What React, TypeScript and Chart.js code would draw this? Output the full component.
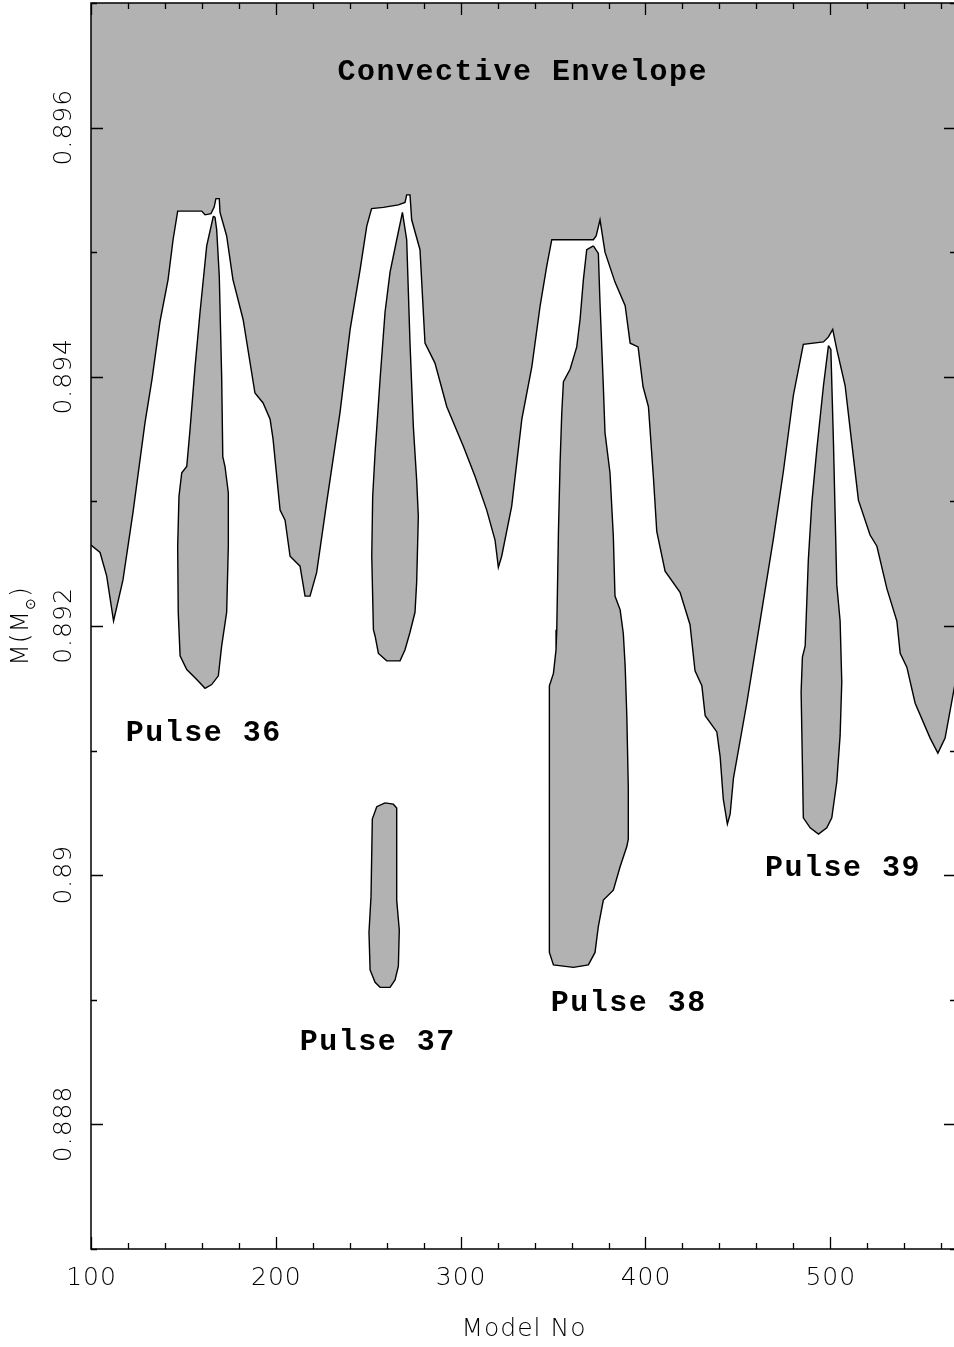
import React, { useEffect, useRef } from "react";
import { Chart, registerables } from "chart.js";

Chart.register(...registerables);

// ---- axis ranges and tick labels ----
const X_MIN = 100;
const X_MAX = 568;
const Y_MIN = 0.887;
const Y_MAX = 0.897;
const xTickValues = [100, 200, 300, 400, 500];
const xTickLabels = ["100", "200", "300", "400", "500"];
const yTickValues = [0.888, 0.89, 0.892, 0.894, 0.896];
const yTickLabels = ["0.888", "0.89", "0.892", "0.894", "0.896"];

// ---- lower boundary of the convective envelope ----
const envelopeX = [100, 104.9, 108.5, 112.2, 117.3, 122.7, 129.2, 133.0, 137.3, 141.7, 144.4, 146.9, 159.9, 161.7, 164.9, 166.6, 167.6, 169.4, 169.8, 173.4, 176.8, 182.3, 188.7, 193.1, 196.9, 198.5, 202.3, 205.0, 207.7, 213.1, 215.8, 218.5, 222.1, 227.5, 234.7, 240.2, 245.6, 249.2, 251.8, 258.2, 266.3, 269.9, 270.8, 272.6, 273.5, 278.0, 280.7, 286.1, 292.5, 301.5, 307.8, 314.1, 318.6, 320.4, 322.2, 327.6, 333.1, 338.5, 343.0, 346.6, 349.3, 371.8, 373.3, 375.4, 378.1, 383.5, 389.0, 391.7, 396.0, 398.7, 401.6, 404.3, 406.1, 410.6, 418.7, 424.1, 426.8, 430.5, 432.3, 438.6, 440.4, 442.1, 444.3, 445.8, 447.6, 454.8, 462.0, 469.2, 474.6, 480.0, 485.4, 496.3, 499.0, 501.3, 503.5, 508.0, 511.6, 515.2, 521.5, 525.2, 530.6, 536.0, 537.8, 541.4, 545.9, 554.0, 558.2, 562.1, 568.0];
const envelopeY = [0.89265, 0.89259, 0.8924, 0.89204, 0.89237, 0.89291, 0.89363, 0.89398, 0.89444, 0.89478, 0.8951, 0.89533, 0.89533, 0.8953, 0.89531, 0.89536, 0.89543, 0.89543, 0.89532, 0.89513, 0.89478, 0.89446, 0.89387, 0.89379, 0.89366, 0.8935, 0.89293, 0.89285, 0.89256, 0.89248, 0.89224, 0.89224, 0.89243, 0.89299, 0.89371, 0.89438, 0.89486, 0.89521, 0.89535, 0.89536, 0.89538, 0.8954, 0.89546, 0.89546, 0.89526, 0.89502, 0.89427, 0.89411, 0.89376, 0.89344, 0.8932, 0.89293, 0.89269, 0.89247, 0.89256, 0.89296, 0.89366, 0.89408, 0.89457, 0.89489, 0.8951, 0.8951, 0.89513, 0.89526, 0.895, 0.89476, 0.89457, 0.89427, 0.89424, 0.89392, 0.89376, 0.89319, 0.89276, 0.89244, 0.89227, 0.89201, 0.89164, 0.89152, 0.89128, 0.89115, 0.89095, 0.89061, 0.89041, 0.89049, 0.89078, 0.89138, 0.89204, 0.8927, 0.89324, 0.89385, 0.89426, 0.89428, 0.89432, 0.89438, 0.89422, 0.89393, 0.89347, 0.89301, 0.89273, 0.89264, 0.8923, 0.89204, 0.89178, 0.89167, 0.89138, 0.8911, 0.89098, 0.8911, 0.89158];

// ---- pulse-driven convective shells (closed outlines) ----
const pulse36X = [166.2, 162.6, 159.0, 156.3, 153.6, 151.8, 149.1, 147.6, 146.9, 147.2, 148.2, 151.8, 157.2, 161.7, 165.3, 168.9, 170.7, 173.4, 174.3, 174.3, 172.5, 171.3, 170.7, 169.4, 168.0, 167.1, 166.2];
const pulse36Y = [0.89529, 0.89505, 0.89452, 0.89408, 0.89358, 0.89328, 0.89323, 0.89304, 0.89264, 0.89211, 0.89176, 0.89165, 0.89157, 0.8915, 0.89153, 0.8916, 0.89184, 0.89211, 0.89264, 0.89307, 0.89328, 0.89336, 0.894, 0.89481, 0.89518, 0.89528, 0.89529];

const pulse37UpperX = [268.5, 265.4, 261.8, 259.1, 256.4, 253.7, 252.4, 251.9, 252.8, 253.7, 255.5, 260.0, 267.2, 269.9, 272.6, 275.3, 276.2, 277.1, 276.2, 274.4, 272.6, 270.8, 268.5];
const pulse37UpperY = [0.89532, 0.8951, 0.89484, 0.89452, 0.89398, 0.89339, 0.89304, 0.89256, 0.89197, 0.89192, 0.89178, 0.89172, 0.89172, 0.89181, 0.89195, 0.89211, 0.89235, 0.89288, 0.89317, 0.8936, 0.89427, 0.8951, 0.89532];

const pulse37LowerX = [259.1, 254.6, 252.2, 251.5, 250.4, 251.0, 253.7, 256.4, 261.8, 264.5, 266.3, 266.8, 265.4, 265.4, 263.6, 259.1];
const pulse37LowerY = [0.89058, 0.89055, 0.89045, 0.88983, 0.88954, 0.88924, 0.88914, 0.8891, 0.8891, 0.88916, 0.88927, 0.88956, 0.8898, 0.89054, 0.89057, 0.89058];

const pulse38X = [371.8, 368.2, 366.4, 364.6, 362.8, 359.2, 355.6, 354.7, 353.8, 352.9, 352.0, 351.6, 350.2, 348.0, 348.0, 350.2, 361.0, 369.1, 372.7, 374.5, 377.2, 382.6, 386.3, 389.9, 390.7, 390.7, 389.9, 389.0, 388.0, 386.3, 383.5, 382.6, 380.8, 378.1, 377.2, 375.4, 374.5, 371.8];
const pulse38Y = [0.89505, 0.89502, 0.89478, 0.89446, 0.89424, 0.89406, 0.89396, 0.89371, 0.89331, 0.89275, 0.89197, 0.89181, 0.89162, 0.89152, 0.88938, 0.88928, 0.88926, 0.88928, 0.88938, 0.88959, 0.8898, 0.88988, 0.89007, 0.89023, 0.89029, 0.89071, 0.89128, 0.89168, 0.89194, 0.89213, 0.89224, 0.89272, 0.89323, 0.89355, 0.89392, 0.89459, 0.89499, 0.89505];

const pulse39X = [499.0, 496.3, 492.7, 490.0, 488.1, 486.4, 484.9, 484.2, 484.9, 485.4, 489.1, 493.6, 498.1, 500.8, 503.5, 505.3, 506.2, 505.3, 503.5, 502.6, 501.7, 500.3, 499.0];
const pulse39Y = [0.89425, 0.89393, 0.89342, 0.89299, 0.89253, 0.89184, 0.89175, 0.89147, 0.89089, 0.89046, 0.89038, 0.89033, 0.89038, 0.89046, 0.89075, 0.89112, 0.89155, 0.89204, 0.89233, 0.8929, 0.89347, 0.89422, 0.89425];

// ---- text annotations (data coordinates) ----
const labelTexts = ["Convective Envelope", "Pulse 36", "Pulse 37", "Pulse 38", "Pulse 39"];
const labelX = [333.2, 160.6, 254.8, 390.6, 506.4];
const labelY = [0.89638, 0.89108, 0.8886, 0.88891, 0.88999];

const GRAY = "#b2b2b2";
const TICK_FONT = "200 25px 'DejaVu Sans', sans-serif";
const SUB_FONT = "200 14px 'DejaVu Sans', sans-serif";

function pts(xs: number[], ys: number[]) {
  return xs.map((x, i) => ({ x, y: ys[i] }));
}

function setSpacing(ctx: any, v: string) {
  try { ctx.letterSpacing = v; } catch (e) {}
}

const framePlugin = {
  id: "framePlugin",
  afterDatasetsDraw(chart: any) {
    const { ctx, chartArea: a, scales } = chart;
    const xs = scales.x;
    const ys = scales.y;
    ctx.save();

    // annotation labels
    ctx.fillStyle = "#000";
    ctx.font = "bold 30px 'Liberation Mono', 'Courier New', monospace";
    ctx.textAlign = "center";
    ctx.textBaseline = "alphabetic";
    setSpacing(ctx, "1.5px");
    labelTexts.forEach((t, i) => {
      ctx.fillText(t, xs.getPixelForValue(labelX[i]) + 0.75, ys.getPixelForValue(labelY[i]));
    });
    setSpacing(ctx, "0px");

    // frame
    ctx.strokeStyle = "#000";
    ctx.lineWidth = 1.5;
    ctx.strokeRect(a.left, a.top, a.right - a.left, a.bottom - a.top);

    // ticks
    ctx.lineWidth = 1.3;
    ctx.beginPath();
    for (let k = 0; 100 + k * 20 <= X_MAX; k++) {
      const v = 100 + k * 20;
      const px = Math.round(xs.getPixelForValue(v)) + 0.5;
      const len = k % 5 === 0 ? 12 : 6;
      ctx.moveTo(px, a.bottom);
      ctx.lineTo(px, a.bottom - len);
      ctx.moveTo(px, a.top);
      ctx.lineTo(px, a.top + len);
    }
    for (let k = 0; k <= 10; k++) {
      const v = Y_MIN + k * 0.001;
      const py = Math.round(ys.getPixelForValue(v)) + 0.5;
      const len = k % 2 === 1 ? 12 : 6;
      ctx.moveTo(a.left, py);
      ctx.lineTo(a.left + len, py);
      ctx.moveTo(a.right, py);
      ctx.lineTo(a.right - len, py);
    }
    ctx.stroke();

    // tick labels
    ctx.fillStyle = "#000";
    ctx.font = TICK_FONT;
    ctx.textAlign = "center";
    ctx.textBaseline = "middle";
    setSpacing(ctx, "1px");
    xTickValues.forEach((v, i) => {
      ctx.fillText(xTickLabels[i], xs.getPixelForValue(v) + 0.5, a.bottom + 29);
    });
    yTickValues.forEach((v, i) => {
      ctx.save();
      ctx.translate(a.left - 28, ys.getPixelForValue(v));
      ctx.rotate(-Math.PI / 2);
      ctx.fillText(yTickLabels[i], 0.5, 1);
      ctx.restore();
    });

    // axis titles
    ctx.fillText("Model No", (a.left + a.right) / 2 + 0.5, a.bottom + 80);

    ctx.save();
    ctx.translate(20, (a.top + a.bottom) / 2);
    ctx.rotate(-Math.PI / 2);
    ctx.textAlign = "left";
    ctx.textBaseline = "alphabetic";
    const p1 = "M(M";
    const p2 = "\u2299";
    const p3 = ")";
    ctx.font = TICK_FONT;
    const w1 = ctx.measureText(p1).width;
    const w3 = ctx.measureText(p3).width;
    ctx.font = SUB_FONT;
    const w2 = ctx.measureText(p2).width;
    const total = w1 + w2 + w3;
    let cx = -total / 2;
    ctx.font = TICK_FONT;
    ctx.fillText(p1, cx, 8);
    cx += w1;
    ctx.font = SUB_FONT;
    ctx.fillText(p2, cx, 15);
    cx += w2;
    ctx.font = TICK_FONT;
    ctx.fillText(p3, cx, 8);
    ctx.restore();
    setSpacing(ctx, "0px");

    ctx.restore();
  },
};

function shell(xs: number[], ys: number[]) {
  return {
    data: pts(xs, ys),
    fill: "shape",
    backgroundColor: GRAY,
    borderColor: "#000",
    borderWidth: 1.4,
    pointRadius: 0,
    tension: 0,
  };
}

export default function App() {
  const canvasRef = useRef<HTMLCanvasElement | null>(null);

  useEffect(() => {
    const canvas = canvasRef.current;
    if (!canvas) return;
    const chart = new Chart(canvas, {
      type: "line",
      data: {
        datasets: [
          {
            data: pts(envelopeX, envelopeY),
            fill: "end",
            backgroundColor: GRAY,
            borderColor: "#000",
            borderWidth: 1.4,
            pointRadius: 0,
            tension: 0,
          } as any,
          shell(pulse36X, pulse36Y) as any,
          shell(pulse37UpperX, pulse37UpperY) as any,
          shell(pulse37LowerX, pulse37LowerY) as any,
          shell(pulse38X, pulse38Y) as any,
          shell(pulse39X, pulse39Y) as any,
        ],
      },
      options: {
        responsive: false,
        animation: false,
        events: [],
        layout: { padding: { left: 91, top: 3, right: 0, bottom: 98 } },
        plugins: {
          legend: { display: false },
          tooltip: { enabled: false },
          title: { display: false },
        },
        scales: {
          x: { type: "linear", min: X_MIN, max: X_MAX, display: false },
          y: { type: "linear", min: Y_MIN, max: Y_MAX, display: false },
        },
      } as any,
      plugins: [framePlugin],
    });
    return () => chart.destroy();
  }, []);

  return (
    <div
      style={{
        position: "absolute",
        left: 0,
        top: 0,
        width: 954,
        height: 1347,
        overflow: "hidden",
        background: "#fff",
      }}
    >
      <canvas ref={canvasRef} width={956} height={1347} style={{ width: 956, height: 1347, display: "block" }} />
    </div>
  );
}
